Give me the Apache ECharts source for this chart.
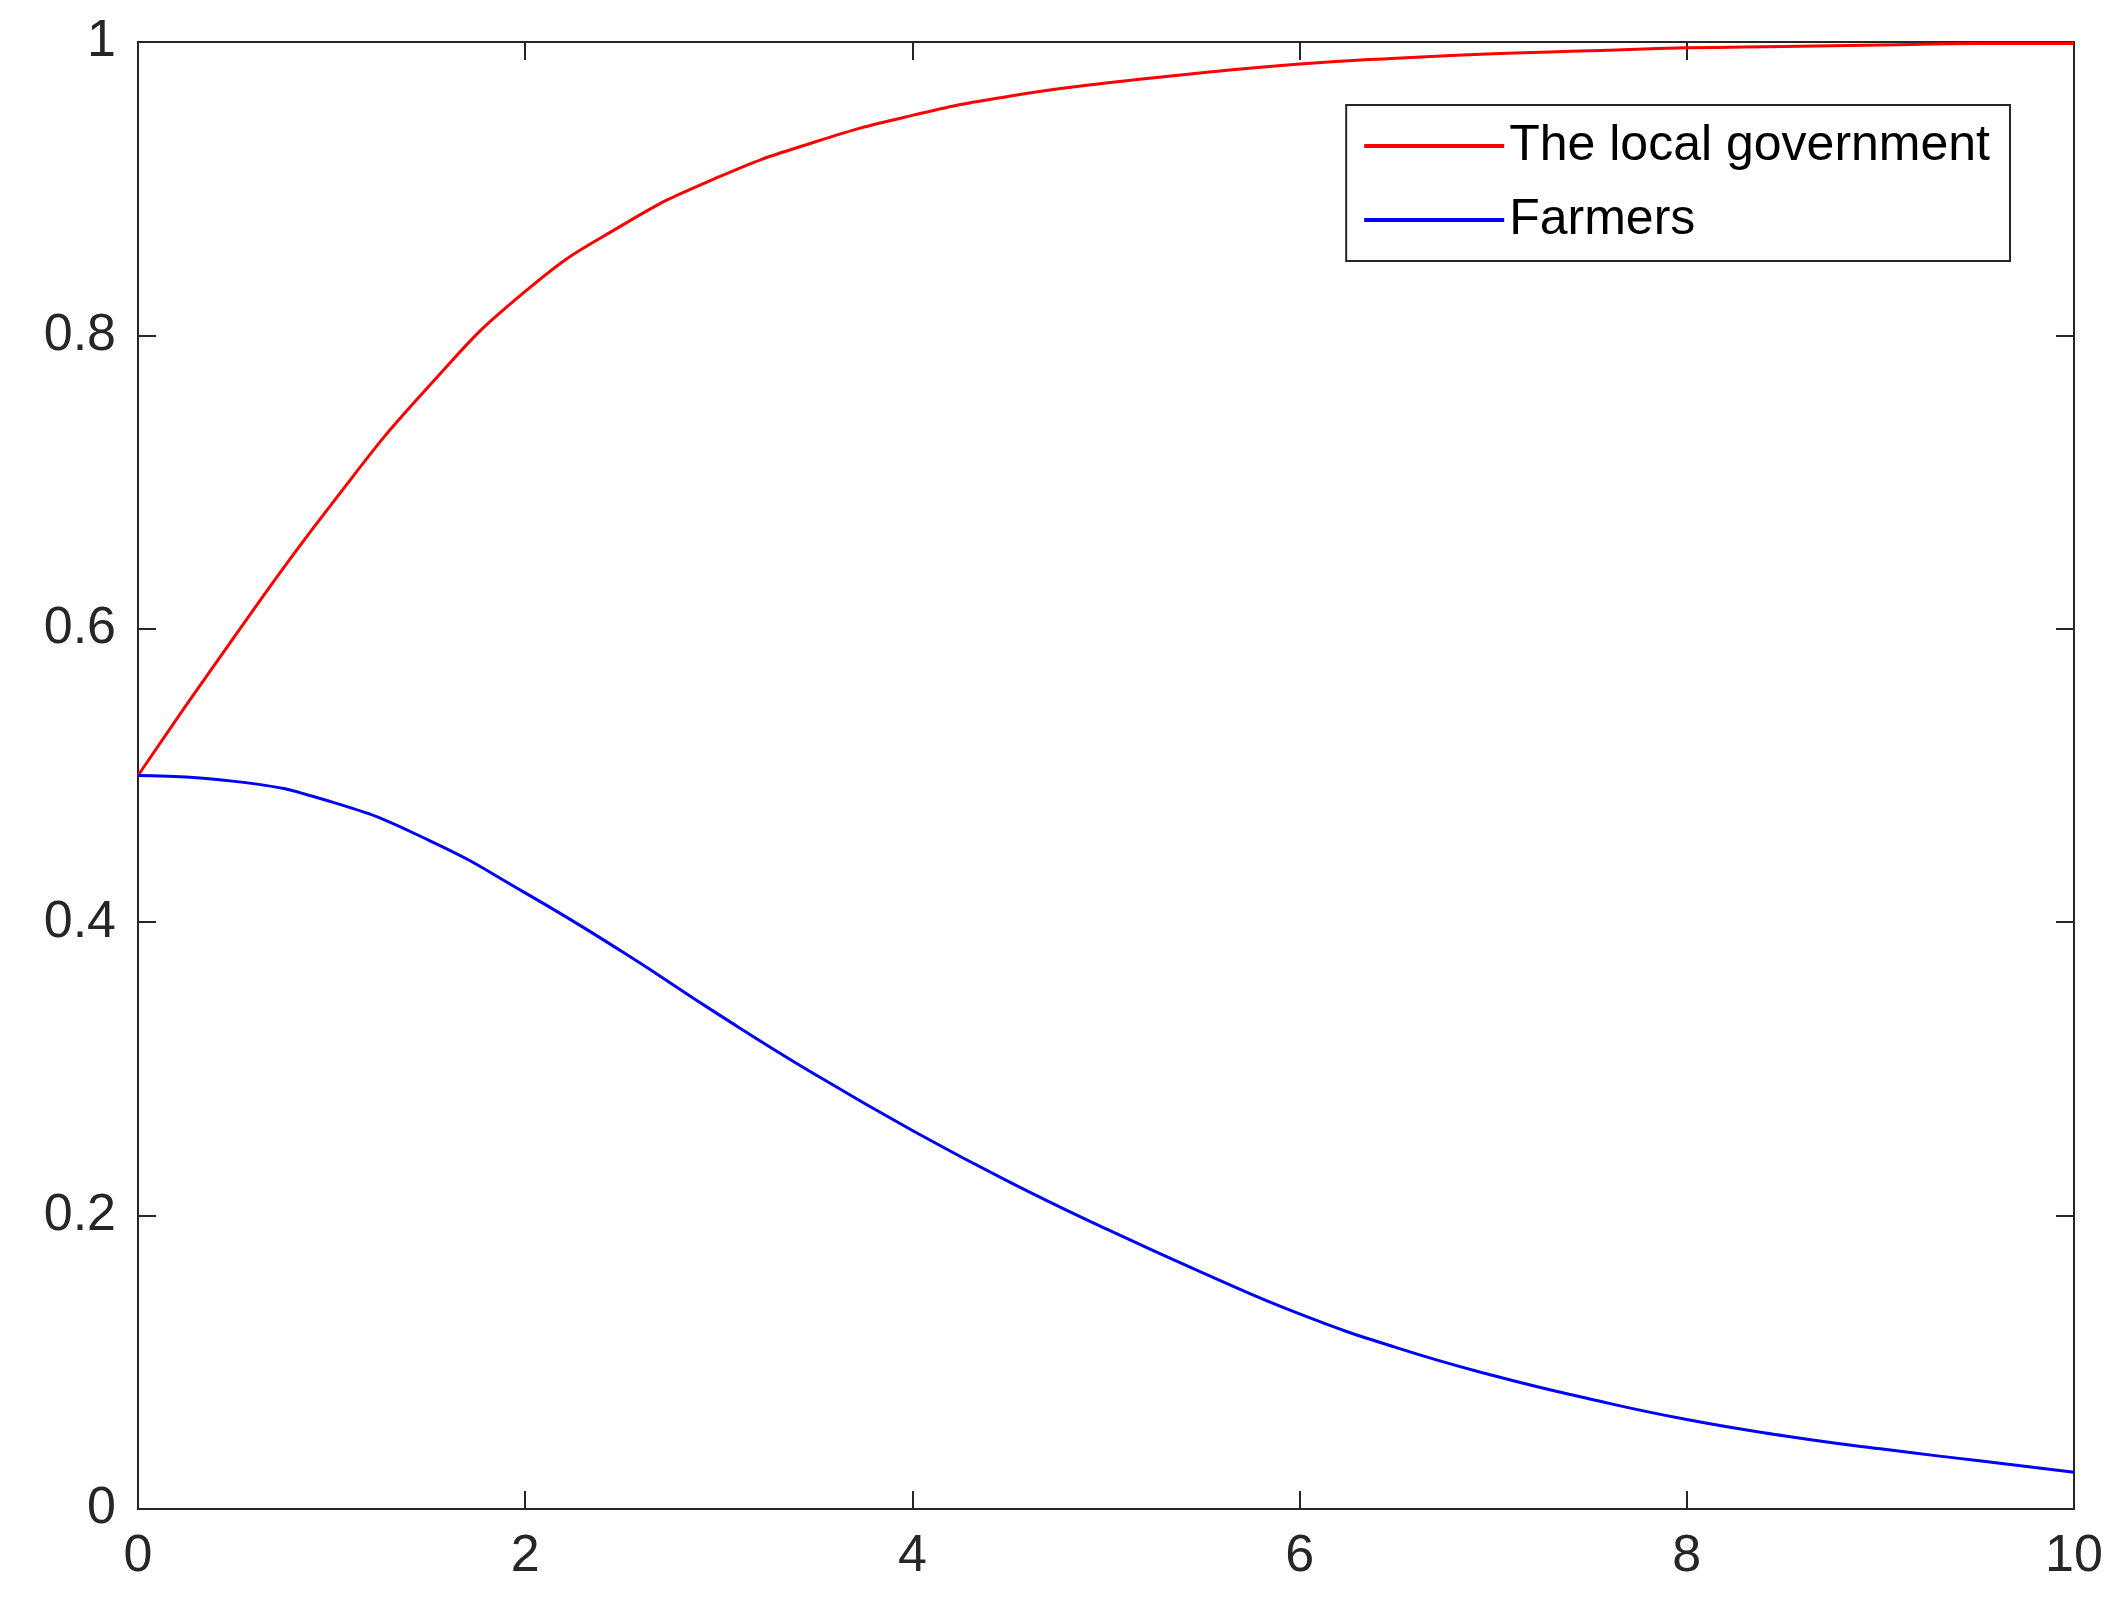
<!DOCTYPE html><html><head><meta charset="utf-8"><script src="https://cdn.jsdelivr.net/npm/echarts@6/dist/echarts.min.js"></script>
<style>html,body{margin:0;background:#fff}#c{width:2121px;height:1621px}</style></head><body><div id="c"></div><script>
const xs=[0,0.5,1,1.5,2,2.5,3,3.5,4,4.5,5,5.5,6,6.5,7,7.5,8,8.5,9,9.5,10];
const gov=[0.5,0.595,0.685,0.765,0.83,0.875,0.908,0.932,0.95,0.963,0.972,0.979,0.985,0.989,0.992,0.994,0.996,0.997,0.998,0.999,0.999];
const farmers=[0.5,0.496,0.482,0.456,0.42,0.38,0.337,0.296,0.258,0.223,0.191,0.161,0.133,0.11,0.091,0.075,0.061,0.05,0.041,0.033,0.025];
const xTicks=[0,2,4,6,8,10];
const ch=echarts.init(document.getElementById('c'));
function ax(){return {type:'value',axisLine:{show:true,onZero:false,lineStyle:{color:'#262626',width:2}},axisTick:{show:true,inside:true,length:18,lineStyle:{color:'#262626',width:2}},splitLine:{show:false}};}
const lab={color:'#262626',fontSize:52,fontFamily:'Liberation Sans'};
ch.setOption({animation:false,
grid:{left:138,right:47,top:42,bottom:112},
legend:{right:111,top:105,orient:'vertical',padding:[16,20,16,18],itemGap:24,itemWidth:140,itemHeight:4,icon:'rect',borderColor:'#262626',borderWidth:2,backgroundColor:'#fff',textStyle:{fontSize:50,color:'#000',fontFamily:'Liberation Sans'}},
xAxis:[Object.assign(ax(),{min:0,max:10,interval:2,position:'bottom',axisLabel:Object.assign({margin:22},lab)}),Object.assign(ax(),{min:0,max:10,interval:2,position:'top',axisLabel:{show:false}})],
yAxis:[Object.assign(ax(),{min:0,max:1,interval:0.2,position:'left',axisLabel:Object.assign({margin:22,formatter:v=>v===0?'0':v===1?'1':String(+v.toFixed(1))},lab)}),Object.assign(ax(),{min:0,max:1,interval:0.2,position:'right',axisLabel:{show:false}})],
series:[
{name:'The local government',type:'line',smooth:true,symbol:'none',data:xs.map((x,i)=>[x,gov[i]]),lineStyle:{color:'#ff0000',width:3},itemStyle:{color:'#ff0000'}},
{name:'Farmers',type:'line',smooth:true,symbol:'none',data:xs.map((x,i)=>[x,farmers[i]]),lineStyle:{color:'#0000ff',width:3},itemStyle:{color:'#0000ff'}}
]});
</script></body></html>
